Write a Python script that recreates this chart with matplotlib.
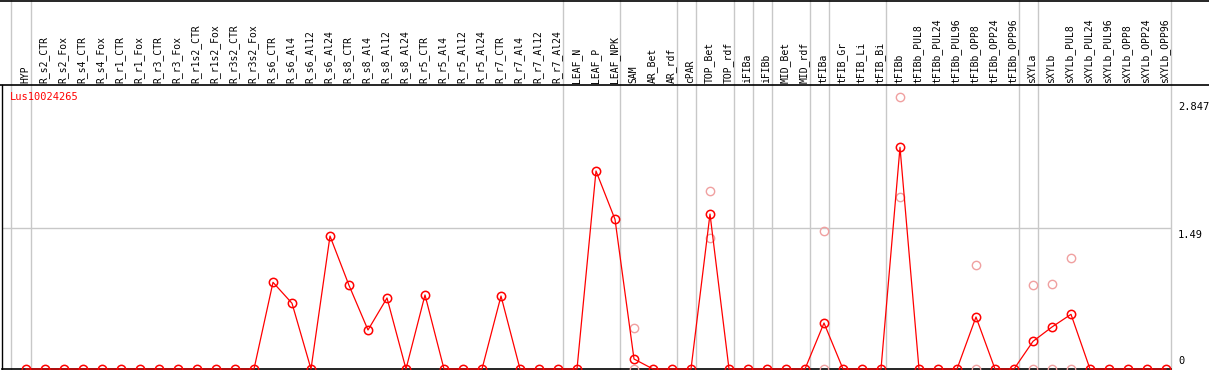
import matplotlib
matplotlib.use("Agg")
from matplotlib import pyplot as plt
from matplotlib.lines import Line2D

# column names (samples)
samples = ['HYP', 'R_s2_CTR', 'R_s2_Fox', 'R_s4_CTR', 'R_s4_Fox', 'R_r1_CTR', 'R_r1_Fox',
           'R_r3_CTR', 'R_r3_Fox', 'R_r1s2_CTR', 'R_r1s2_Fox', 'R_r3s2_CTR', 'R_r3s2_Fox',
           'R_s6_CTR', 'R_s6_Al4', 'R_s6_Al12', 'R_s6_Al24', 'R_s8_CTR', 'R_s8_Al4',
           'R_s8_Al12', 'R_s8_Al24', 'R_r5_CTR', 'R_r5_Al4', 'R_r5_Al12', 'R_r5_Al24',
           'R_r7_CTR', 'R_r7_Al4', 'R_r7_Al12', 'R_r7_Al24', 'LEAF_N', 'LEAF_P', 'LEAF_NPK',
           'SAM', 'AR_Bet', 'AR_rdf', 'cPAR', 'TOP_Bet', 'TOP_rdf', 'iFIBa', 'iFIBb',
           'MID_Bet', 'MID_rdf', 'tFIBa', 'tFIB_Gr', 'tFIB_Li', 'tFIB_Bi', 'tFIBb',
           'tFIBb_PUL8', 'tFIBb_PUL24', 'tFIBb_PUL96', 'tFIBb_OPP8', 'tFIBb_OPP24',
           'tFIBb_OPP96', 'sXYLa', 'sXYLb', 'sXYLb_PUL8', 'sXYLb_PUL24', 'sXYLb_PUL96',
           'sXYLb_OPP8', 'sXYLb_OPP24', 'sXYLb_OPP96']

# mean expression per sample
means = [0, 0, 0, 0, 0, 0, 0, 0, 0, 0, 0, 0, 0,
         0.918, 0.696, 0, 1.408, 0.886, 0.413, 0.752, 0,
         0.784, 0, 0, 0, 0.773, 0, 0, 0,
         0, 2.097, 1.585, 0.106, 0, 0, 0, 1.641, 0, 0, 0, 0, 0,
         0.487, 0, 0, 0, 2.348, 0, 0, 0, 0.551, 0, 0,
         0.293, 0.445, 0.579, 0, 0, 0, 0, 0]

# single replicates (faded circles)
rep_samples = ['SAM', 'SAM', 'TOP_Bet', 'TOP_Bet', 'tFIBa', 'tFIBa', 'tFIBb', 'tFIBb',
               'tFIBb_OPP8', 'tFIBb_OPP8', 'sXYLa', 'sXYLa', 'sXYLb', 'sXYLb',
               'sXYLb_PUL8', 'sXYLb_PUL8']
rep_values = [0.431, 0, 1.882, 1.390, 1.461, 0, 2.877, 1.818,
              1.098, 0, 0.886, 0, 0.900, 0, 1.172, 0]

# group separators (after these samples)
group_ends = ['HYP', 'R_r7_Al24', 'LEAF_NPK', 'AR_rdf', 'cPAR', 'TOP_rdf', 'iFIBa', 'iFIBb',
              'MID_rdf', 'tFIBa', 'tFIB_Bi', 'tFIBb_OPP96', 'sXYLa', 'sXYLb_OPP96']

ticks = [0, 1.49, 2.847]
gene = 'Lus10024265'

W, H = 1209, 370
mono = 'DejaVu Sans Mono'
fig = plt.figure(figsize=(W / 100, H / 100), dpi=100)
ax = fig.add_axes([1.5 / W, 1 / H, (1170.7 - 1.5) / W, 284 / H])

x = list(range(len(samples)))
ax.set_xlim((1.5 - 26) / 19, (1170.7 - 26) / 19)
ax.set_ylim(0, 1.49 * 284 / 140.7)

rx = [samples.index(s) for s in rep_samples]
ax.plot(rx, rep_values, ls='none', marker='o', ms=6, mfc='none', mec='#f0a0a0',
        mew=1, clip_on=False, zorder=3)
ax.plot(x, means, color='red', lw=0.9, marker='o', ms=6, mfc='none', mec='red',
        mew=1.1, clip_on=False, zorder=4)

# grid / separators
ax.axhline(1.49, color='#c8c8c8', lw=1, zorder=1)
ax.axvline(-0.8, ymin=0, ymax=369 / 284, color='#c8c8c8', lw=1, clip_on=False, zorder=1)
for s in group_ends:
    ax.axvline(samples.index(s) + 0.25, ymin=0, ymax=369 / 284, color='#c8c8c8', lw=1,
               clip_on=False, zorder=1)

for side in ['top', 'right']:
    ax.spines[side].set_visible(False)
ax.spines['left'].set_linewidth(1)
ax.spines['bottom'].set_linewidth(1.2)
ax.set_xticks([])
ax.set_yticks([])

# borders across full width
fig.add_artist(Line2D([0, 1], [285 / H, 285 / H], color='black', lw=1.2,
                      transform=fig.transFigure))
fig.add_artist(Line2D([0, 1], [369.5 / H, 369.5 / H], color='black', lw=1.2,
                      transform=fig.transFigure))

# column labels
tr = ax.get_xaxis_transform()
for i, s in enumerate(samples):
    ax.text(i - 0.05, 1.007, s, rotation=90, ha='center', va='bottom', transform=tr,
            family=mono, fontsize=7, clip_on=False)

# y labels on the right
ytr = ax.get_yaxis_transform()
px = 0.01059
ax.text(1.0063, ticks[2] - 1.5 * px, '2.847', ha='left', va='top', transform=ytr,
        family=mono, fontsize=7.5)
ax.text(1.0063, ticks[1] - 1.5 * px, '1.49', ha='left', va='top', transform=ytr,
        family=mono, fontsize=7.5)
ax.text(1.0063, ticks[0] + 3 * px, '0', ha='left', va='bottom', transform=ytr,
        family=mono, fontsize=7.5)

fig.text(10 / W, 1 - 97 / H, gene, color='red', ha='left', va='center',
         family=mono, fontsize=7.5)

fig.savefig('out.png', dpi=100)
